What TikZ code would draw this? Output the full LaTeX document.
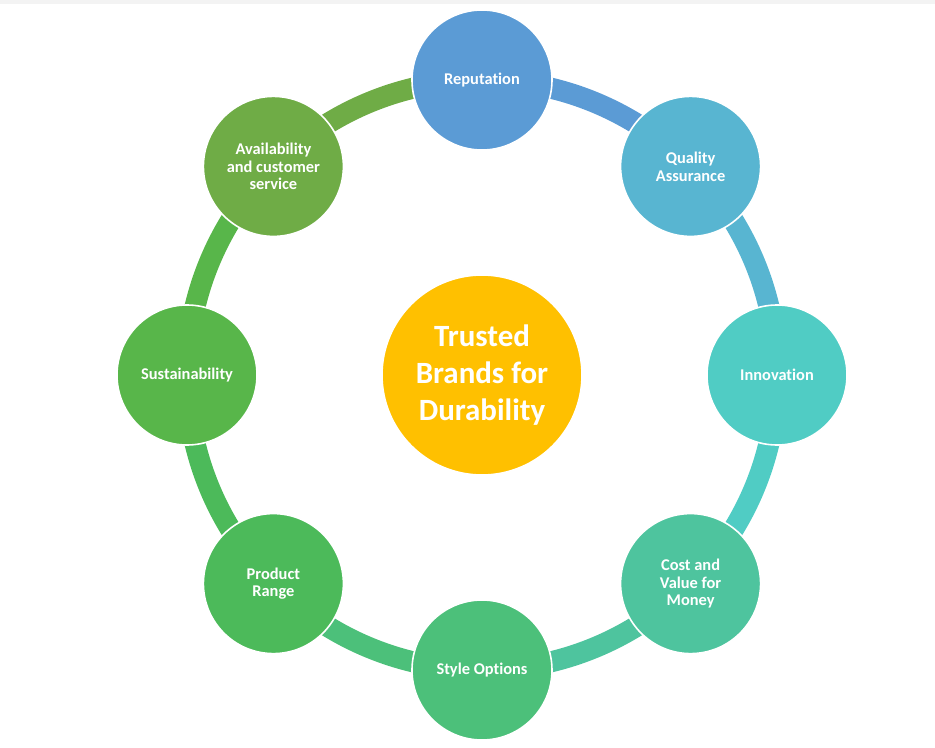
\documentclass[tikz,border=0pt]{standalone}
\usepackage{fontspec}
\setmainfont[Ligatures={NoCommon,NoRare,NoContextual}]{Carlito}
\usetikzlibrary{backgrounds}
\definecolor{cRep}{HTML}{5B9BD5}
\definecolor{cQA}{HTML}{58B5D1}
\definecolor{cInn}{HTML}{50CCC4}
\definecolor{cCost}{HTML}{4EC49E}
\definecolor{cStyle}{HTML}{4CC07A}
\definecolor{cProd}{HTML}{4CBA5A}
\definecolor{cSus}{HTML}{58B64A}
\definecolor{cAvail}{HTML}{6FAC46}
\definecolor{cHub}{HTML}{FFC000}
\definecolor{cBand}{HTML}{F3F3F3}
\begin{document}
\begin{tikzpicture}[x=0.75pt,y=0.75pt,
  item/.style={circle, fill=#1, draw=white, line width=1.2pt, minimum size=105pt,
    inner sep=0pt, align=center, text=white,
    font=\bfseries\fontsize{12.3}{13.4}\selectfont},
  hubstyle/.style={circle, fill=cHub, draw=white, line width=1.2pt, minimum size=150pt,
    inner sep=0pt, align=center, text=white,
    font=\bfseries\fontsize{23.2}{27.8}\selectfont},
  seg/.style={line width=15.75pt, draw=#1}]
\useasboundingbox (-482,-372) rectangle (453,375);
\fill[cBand] (-482,375) rectangle (453,371);

\node[hubstyle] (hub) at (0,0) {Trusted\\Brands for\\Durability};
\node[item=cRep]   (rep)   at (90:295)  {Reputation};
\node[item=cQA]    (qa)    at (45:295)  {Quality\\Assurance};
\node[item=cInn]   (inn)   at (0:295)   {Innovation};
\node[item=cCost]  (cost)  at (-45:295) {Cost and\\Value for\\Money};
\node[item=cStyle] (style) at (-90:295) {Style Options};
\node[item=cProd]  (prod)  at (-135:295){Product\\Range};
\node[item=cSus]   (sus)   at (180:295) {Sustainability};
\node[item=cAvail] (avail) at (135:295) {Availability\\and customer\\service};

\begin{scope}[on background layer]
\draw[seg=cRep]   (rep.center)   arc[start angle=90,  end angle=45,   radius=221.25pt];
\draw[seg=cQA]    (qa.center)    arc[start angle=45,  end angle=0,    radius=221.25pt];
\draw[seg=cInn]   (inn.center)   arc[start angle=0,   end angle=-45,  radius=221.25pt];
\draw[seg=cCost]  (cost.center)  arc[start angle=-45, end angle=-90,  radius=221.25pt];
\draw[seg=cStyle] (style.center) arc[start angle=-90, end angle=-135, radius=221.25pt];
\draw[seg=cProd]  (prod.center)  arc[start angle=225, end angle=180,  radius=221.25pt];
\draw[seg=cSus]   (sus.center)   arc[start angle=180, end angle=135,  radius=221.25pt];
\draw[seg=cAvail] (avail.center) arc[start angle=135, end angle=90,   radius=221.25pt];
\end{scope}
\end{tikzpicture}
\end{document}
